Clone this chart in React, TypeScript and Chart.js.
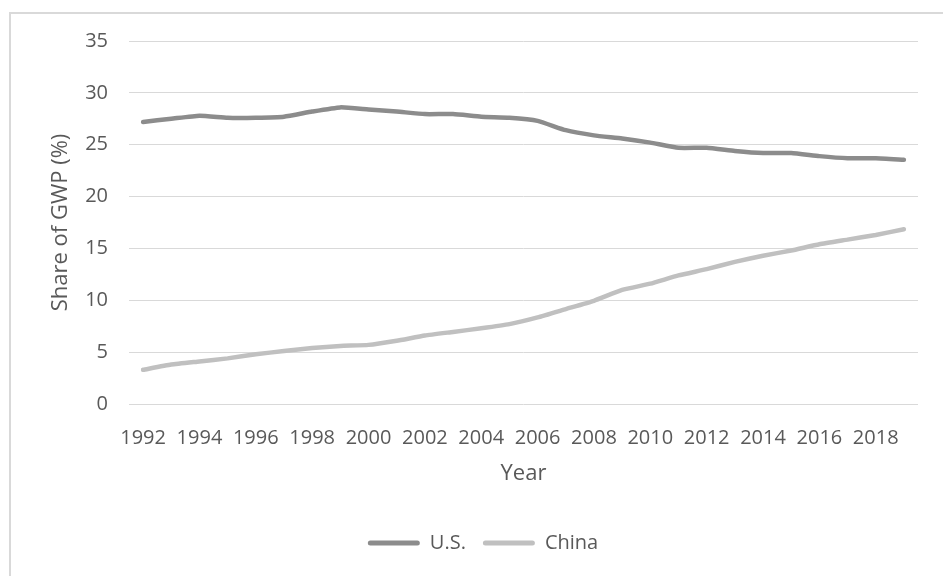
import React, { useEffect, useRef } from "react";
import { Chart, registerables } from "chart.js";

Chart.register(...registerables);

const years = [
  "1992", "1993", "1994", "1995", "1996", "1997", "1998", "1999", "2000", "2001",
  "2002", "2003", "2004", "2005", "2006", "2007", "2008", "2009", "2010", "2011",
  "2012", "2013", "2014", "2015", "2016", "2017", "2018", "2019",
];

const usShare = [
  27.2, 27.5, 27.8, 27.6, 27.6, 27.7, 28.2, 28.6, 28.4, 28.2,
  27.95, 27.95, 27.7, 27.6, 27.3, 26.4, 25.9, 25.6, 25.2, 24.7,
  24.7, 24.4, 24.2, 24.2, 23.9, 23.7, 23.7, 23.55,
];

const chinaShare = [
  3.3, 3.8, 4.1, 4.4, 4.8, 5.1, 5.4, 5.6, 5.7, 6.1,
  6.6, 6.95, 7.3, 7.7, 8.35, 9.15, 9.95, 11.0, 11.6, 12.4,
  13.0, 13.7, 14.3, 14.8, 15.4, 15.85, 16.3, 16.85,
];

const seriesNames = ["U.S.", "China"];
const yMin = 0;
const yMax = 35;
const yStep = 5;

const US_COLOR = "#8c8c8c";
const CHINA_COLOR = "#c0c0c0";
const TEXT_COLOR = "#595959";
const GRID_COLOR = "#d9d9d9";

export default function App() {
  const canvasRef = useRef<HTMLCanvasElement | null>(null);

  useEffect(() => {
    if (!canvasRef.current) return;
    const font = '"Open Sans", sans-serif';
    const chart = new Chart(canvasRef.current, {
      type: "line",
      data: {
        labels: years,
        datasets: [
          {
            label: seriesNames[0],
            data: usShare,
            borderColor: US_COLOR,
            backgroundColor: US_COLOR,
            borderWidth: 4.5,
            pointRadius: 0,
            pointHoverRadius: 0,
            tension: 0.15,
            borderCapStyle: "round",
            borderJoinStyle: "round",
            fill: false,
          },
          {
            label: seriesNames[1],
            data: chinaShare,
            borderColor: CHINA_COLOR,
            backgroundColor: CHINA_COLOR,
            borderWidth: 4.5,
            pointRadius: 0,
            pointHoverRadius: 0,
            tension: 0.15,
            borderCapStyle: "round",
            borderJoinStyle: "round",
            fill: false,
          },
        ],
      },
      options: {
        animation: false,
        responsive: false,
        maintainAspectRatio: false,
        events: [],
        layout: { padding: { left: 48, right: 25, top: 41, bottom: 13 } },
        font: { family: font },
        scales: {
          x: {
            type: "category",
            offset: true,
            grid: { display: false, drawTicks: false },
            border: { display: false },
            ticks: {
              autoSkip: false,
              maxRotation: 0,
              minRotation: 0,
              padding: 22,
              color: TEXT_COLOR,
              font: { family: font, size: 20 },
              callback: function (_v: any, index: number) {
                return index % 2 === 0 ? years[index] : "";
              },
            },
            title: {
              display: true,
              text: "Year",
              color: TEXT_COLOR,
              font: { family: font, size: 22 },
              padding: { top: 0, bottom: 29 },
            },
            afterFit: (scale: any) => {
              scale.height = 112;
            },
          },
          y: {
            min: yMin,
            max: yMax,
            grid: { color: GRID_COLOR, lineWidth: 1, drawTicks: false },
            border: { display: false },
            ticks: {
              stepSize: yStep,
              padding: 21,
              color: TEXT_COLOR,
              font: { family: font, size: 20 },
            },
            title: {
              display: true,
              text: "Share of GWP (%)",
              color: TEXT_COLOR,
              font: { family: font, size: 22 },
              padding: { top: 0, bottom: 0 },
            },
            afterFit: (scale: any) => {
              scale.width = 81;
            },
          },
        },
        plugins: {
          tooltip: { enabled: false },
          legend: {
            display: true,
            position: "bottom",
            labels: {
              boxWidth: 52,
              boxHeight: 5,
              padding: 17,
              color: TEXT_COLOR,
              font: { family: font, size: 20 },
              useBorderRadius: true,
              borderRadius: 2.5,
              generateLabels: (c: any) =>
                Chart.defaults.plugins.legend.labels
                  .generateLabels(c)
                  .map((l: any) => ({ ...l, lineWidth: 0, fillStyle: l.strokeStyle })),
            },
          },
        },
      } as any,
    });
    return () => chart.destroy();
  }, []);

  return (
    <div
      style={{
        position: "fixed",
        left: 0,
        top: 0,
        width: 943,
        height: 576,
        overflow: "hidden",
        background: "#ffffff",
      }}
    >
      <div
        style={{
          position: "absolute",
          left: 9,
          top: 12,
          width: 1000,
          height: 700,
          border: "2px solid #d9d9d9",
          boxSizing: "border-box",
        }}
      />
      <canvas
        ref={canvasRef}
        width={943}
        height={576}
        style={{ position: "absolute", left: 0, top: 0, width: 943, height: 576 }}
      />
    </div>
  );
}
